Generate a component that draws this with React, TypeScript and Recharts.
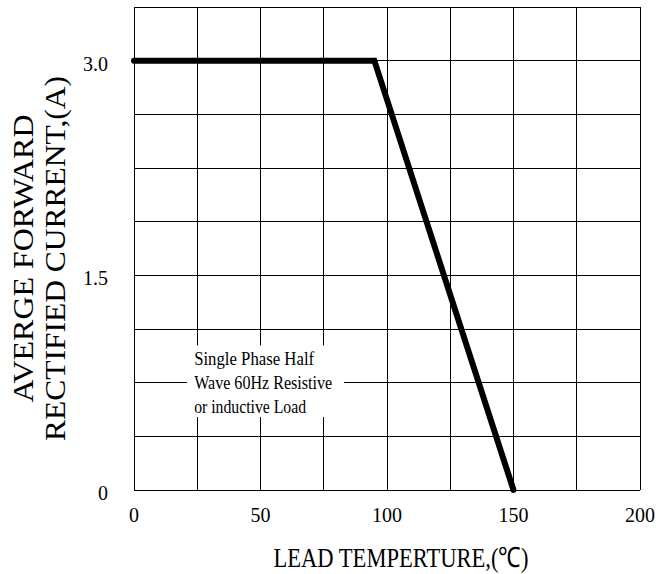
import { LineChart, Line, XAxis, YAxis, CartesianGrid, ReferenceArea } from "recharts";

// Derating curve points (lead temperature °C, current A)
const temps = [0, 95, 150];
const currents = [3.0, 3.0, 0];

const xTicks = [0, 50, 100, 150, 200];
const yTicks = [0, 1.5, 3.0];

// grid every 25 °C and every 0.375 A
const gridX = [0, 25, 50, 75, 100, 125, 150, 175, 200];
const gridY = [0, 0.375, 0.75, 1.125, 1.5, 1.875, 2.25, 2.625, 3.0, 3.375];

const noteLines = ["Single Phase Half", "Wave 60Hz Resistive", "or inductive Load"];
const noteBox = { x1: 21, x2: 83, y1: 0.51, y2: 1.01 };

const yTitle = ["AVERGE FORWARD", "RECTIFIED CURRENT,(A)"];
const xTitle = "LEAD TEMPERTURE,(\u2103)";

const data = temps.map((t, i) => ({ t, a: currents[i] }));

const SERIF = "'Liberation Serif', 'Times New Roman', serif";

const XTick = ({ x, y, payload }: any) => (
  <text x={x} y={y + 32} textAnchor="middle" fontFamily={SERIF} fontSize={20} fill="#000">
    {payload.value}
  </text>
);

const YTick = ({ x, y, payload }: any) => (
  <text x={x} y={y + 10} textAnchor="end" fontFamily={SERIF} fontSize={20} fill="#000">
    {payload.value === 0 ? "0" : Number(payload.value).toFixed(1)}
  </text>
);

export default function App() {
  return (
    <div style={{ position: "absolute", left: 0, top: 0, background: "#fff" }}>
      <LineChart width={656} height={574} data={data} margin={{ top: 7, right: 16, left: 0, bottom: 0 }}>
        <CartesianGrid
          stroke="#000"
          strokeWidth={1}
          shapeRendering="crispEdges"
          horizontalValues={gridY}
          verticalValues={gridX}
        />
        <XAxis
          dataKey="t"
          type="number"
          domain={[0, 200]}
          ticks={xTicks}
          axisLine={false}
          tickLine={false}
          tickSize={0}
          tickMargin={0}
          height={84}
          tick={<XTick />}
          label={{
            content: ({ viewBox }: any) => (
              <text
                x={viewBox.x + viewBox.width / 2 + 14}
                y={viewBox.y + 77}
                textAnchor="middle"
                fontFamily={SERIF}
                fontSize={28}
                textLength={255}
                lengthAdjust="spacingAndGlyphs"
                fill="#000"
              >
                {xTitle}
              </text>
            ),
          }}
        />
        <YAxis
          type="number"
          domain={[0, 3.375]}
          ticks={yTicks}
          axisLine={false}
          tickLine={false}
          tickSize={0}
          tickMargin={26}
          width={134}
          tick={<YTick />}
          label={{
            content: ({ viewBox }: any) => {
              const cy = viewBox.y + viewBox.height / 2 + 10;
              return (
                <g>
                  {yTitle.map((s, i) => (
                    <text
                      key={s}
                      x={33 + i * 32}
                      y={cy}
                      transform={`rotate(-90, ${33 + i * 32}, ${cy})`}
                      textAnchor="middle"
                      fontFamily={SERIF}
                      fontSize={29}
                      textLength={[288, 365][i]}
                      lengthAdjust="spacingAndGlyphs"
                      fill="#000"
                    >
                      {s}
                    </text>
                  ))}
                </g>
              );
            },
          }}
        />
        <ReferenceArea
          x1={noteBox.x1}
          x2={noteBox.x2}
          y1={noteBox.y1}
          y2={noteBox.y2}
          fill="#fff"
          fillOpacity={1}
          stroke="none"
          label={{
            content: ({ viewBox }: any) => (
              <g>
                {noteLines.map((s, i) => (
                  <text
                    key={s}
                    x={viewBox.x + 7}
                    y={viewBox.y + 20 + i * 24}
                    fontFamily={SERIF}
                    fontSize={18}
                    textLength={[120, 138, 112][i]}
                    lengthAdjust="spacingAndGlyphs"
                    fill="#000"
                  >
                    {s}
                  </text>
                ))}
              </g>
            ),
          }}
        />
        <Line
          type="linear"
          dataKey="a"
          stroke="#000"
          strokeWidth={6}
          strokeLinecap="round"
          dot={false}
          activeDot={false}
          isAnimationActive={false}
        />
      </LineChart>
    </div>
  );
}
